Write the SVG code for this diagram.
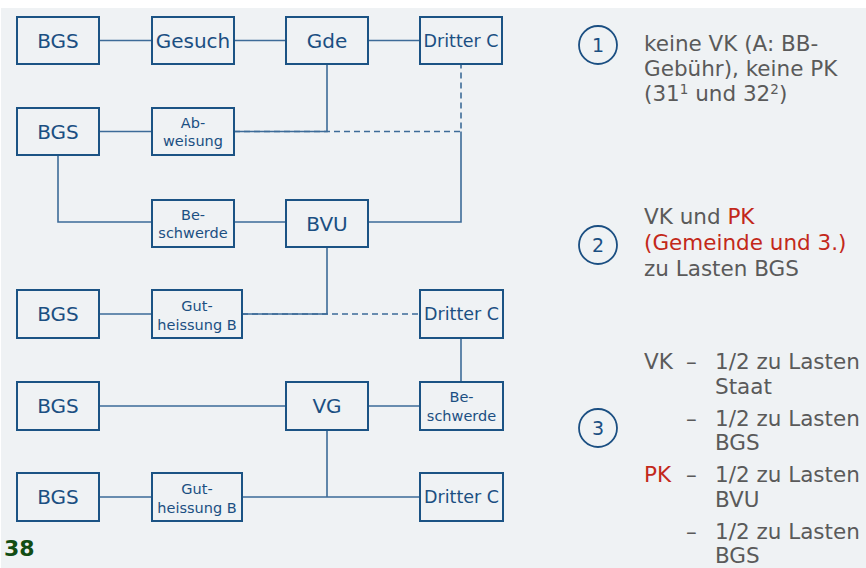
<svg xmlns="http://www.w3.org/2000/svg" width="866" height="568" viewBox="0 0 866 568">
<style>
.bg{fill:#eff2f4}
.box{fill:none;stroke:#1b5384;stroke-width:2}
.lbl{font-family:"DejaVu Sans",Verdana,sans-serif;fill:#1b4f82;text-anchor:middle}
.big{font-size:20px}
.mid{font-size:17.5px}
.sm{font-size:14.5px}
.ln{fill:none;stroke:#3d6b98;stroke-width:1.6}
.dash{stroke-dasharray:6 4}
.note{font-family:"DejaVu Sans",Verdana,sans-serif;font-size:21.5px;fill:#5a5a5a}
.red{fill:#c3281a}
.num{fill:none;stroke:#1b4f82;stroke-width:1.8}
.numt{font-family:"DejaVu Sans",Verdana,sans-serif;font-size:19px;fill:#1b4f82;text-anchor:middle}
</style>
<rect class="bg" x="1" y="8" width="865" height="560"/>
<g id="connectors">
<path class="ln" d="M100 40.5H152M234 40.5H286M368 40.5H420"/>
<path class="ln" d="M100 131.5H152M234 131.5H327V64"/>
<path class="ln dash" d="M234 131.5H461V64"/>
<path class="ln" d="M368 222H461V131.5"/>
<path class="ln" d="M58 155V222H152M234 222H286"/>
<path class="ln" d="M100 314H152M242 314H327V247"/>
<path class="ln dash" d="M242 314H420"/>
<path class="ln" d="M461 338V382"/>
<path class="ln" d="M100 406H286M368 406H420"/>
<path class="ln" d="M327 430V497M100 497H152M242 497H420"/>
</g>
<g id="n-bgs1"><rect class="box" x="17" y="17" width="82" height="47"/><text class="lbl big" x="58" y="48">BGS</text></g>
<g id="n-gesuch"><rect class="box" x="152" y="17" width="82" height="47"/><text class="lbl big" x="193" y="48">Gesuch</text></g>
<g id="n-gde"><rect class="box" x="286" y="17" width="82" height="47"/><text class="lbl big" x="327" y="48">Gde</text></g>
<g id="n-dritter1"><rect class="box" x="420" y="17" width="82" height="47"/><text class="lbl mid" x="461" y="47">Dritter C</text></g>
<g id="n-bgs2"><rect class="box" x="17" y="108" width="82" height="47"/><text class="lbl big" x="58" y="139">BGS</text></g>
<g id="n-abweisung"><rect class="box" x="152" y="108" width="82" height="47"/><text class="lbl sm" x="193" y="128">Ab-</text><text class="lbl sm" x="193" y="146">weisung</text></g>
<g id="n-beschwerde1"><rect class="box" x="152" y="200" width="82" height="47"/><text class="lbl sm" x="193" y="220">Be-</text><text class="lbl sm" x="193" y="238">schwerde</text></g>
<g id="n-bvu"><rect class="box" x="286" y="200" width="82" height="47"/><text class="lbl big" x="327" y="231">BVU</text></g>
<g id="n-bgs3"><rect class="box" x="17" y="290" width="82" height="48"/><text class="lbl big" x="58" y="321">BGS</text></g>
<g id="n-gut1"><rect class="box" x="152" y="290" width="90" height="48"/><text class="lbl sm" x="197" y="311">Gut-</text><text class="lbl sm" x="197" y="330">heissung B</text></g>
<g id="n-dritter2"><rect class="box" x="420" y="290" width="83" height="48"/><text class="lbl mid" x="461.5" y="320">Dritter C</text></g>
<g id="n-bgs4"><rect class="box" x="17" y="382" width="82" height="48"/><text class="lbl big" x="58" y="413">BGS</text></g>
<g id="n-vg"><rect class="box" x="286" y="382" width="82" height="48"/><text class="lbl big" x="327" y="413">VG</text></g>
<g id="n-beschwerde2"><rect class="box" x="420" y="382" width="83" height="48"/><text class="lbl sm" x="461.5" y="402">Be-</text><text class="lbl sm" x="461.5" y="421">schwerde</text></g>
<g id="n-bgs5"><rect class="box" x="17" y="473" width="82" height="48"/><text class="lbl big" x="58" y="504">BGS</text></g>
<g id="n-gut2"><rect class="box" x="152" y="473" width="90" height="48"/><text class="lbl sm" x="197" y="494">Gut-</text><text class="lbl sm" x="197" y="513">heissung B</text></g>
<g id="n-dritter3"><rect class="box" x="420" y="473" width="83" height="48"/><text class="lbl mid" x="461.5" y="503">Dritter C</text></g>
<g id="note1">
<circle class="num" cx="598" cy="45" r="19"/><text class="numt" x="598" y="52">1</text>
<text class="note" x="644" y="51">keine VK (A: BB-</text>
<text class="note" x="644" y="76">Gebühr), keine PK</text>
<text class="note" x="644" y="101">(31<tspan font-size="13.5" dy="-7">1</tspan><tspan dy="7"> und 32</tspan><tspan font-size="13.5" dy="-7">2</tspan><tspan dy="7">)</tspan></text>
</g>
<g id="note2">
<circle class="num" cx="598" cy="245" r="19"/><text class="numt" x="598" y="252">2</text>
<text class="note" x="644" y="224">VK und <tspan class="red">PK</tspan></text>
<text class="note red" x="644" y="250">(Gemeinde und 3.)</text>
<text class="note" x="644" y="276">zu Lasten BGS</text>
</g>
<g id="note3">
<circle class="num" cx="598" cy="428" r="19"/><text class="numt" x="598" y="435">3</text>
<text class="note" x="644" y="369">VK</text><text class="note" x="686" y="369">–</text><text class="note" x="715" y="369">1/2 zu Lasten</text>
<text class="note" x="715" y="394">Staat</text>
<text class="note" x="686" y="426">–</text><text class="note" x="715" y="426">1/2 zu Lasten</text>
<text class="note" x="715" y="450">BGS</text>
<text class="note red" x="644" y="482">PK</text><text class="note" x="686" y="482">–</text><text class="note" x="715" y="482">1/2 zu Lasten</text>
<text class="note" x="715" y="507">BVU</text>
<text class="note" x="686" y="539">–</text><text class="note" x="715" y="539">1/2 zu Lasten</text>
<text class="note" x="715" y="563">BGS</text>
</g>
<text x="4" y="556" font-family="'DejaVu Sans',Verdana,sans-serif" font-weight="bold" font-size="22" fill="#124d14">38</text>
</svg>
